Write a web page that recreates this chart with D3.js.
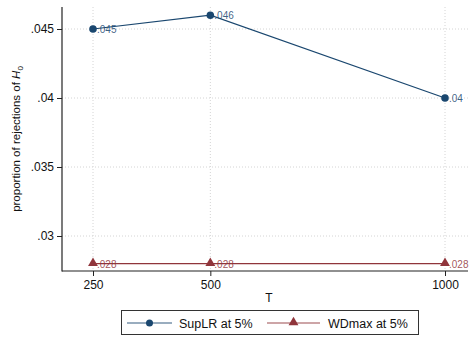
<!DOCTYPE html>
<html><head><meta charset="utf-8">
<script src="https://cdn.jsdelivr.net/npm/d3@7"></script>
<style>body{margin:0;background:#fff;}svg{display:block;font-family:"Liberation Sans",Arial,sans-serif;}</style>
</head><body><svg id="c" width="472" height="339"></svg>
<script>
const categories = [250, 500, 1000];
const supLR = [0.045, 0.046, 0.04];
const wdMax = [0.028, 0.028, 0.028];
const yTicks = [0.03, 0.035, 0.04, 0.045];
const yTickLabels = [".03", ".035", ".04", ".045"];
const seriesNames = ["SupLR at 5%", "WDmax at 5%"];
const colors = ["#1a476f", "#90353b"];

(function () {
const svg = d3.select("#c");
const x = d3.scaleLinear().domain([250, 1000]).range([93, 445]);
const y = d3.scaleLinear().domain([0.03, 0.045]).range([236, 29]);
const pLeft = 62, pRight = 468, pTop = 7, pBottom = 271;

// grid
const g = svg.append("g");
g.selectAll(".hg").data(yTicks).enter().append("line")
  .attr("x1", pLeft).attr("x2", 470).attr("y1", d => y(d)).attr("y2", d => y(d))
  .attr("stroke", "#d4d4d4").attr("stroke-width", 1).attr("stroke-dasharray", "1,2");
g.selectAll(".vg").data(categories).enter().append("line")
  .attr("y1", pTop).attr("y2", pBottom).attr("x1", d => x(d)).attr("x2", d => x(d))
  .attr("stroke", "#d4d4d4").attr("stroke-width", 1).attr("stroke-dasharray", "1,2");

// axes
const yAxis = d3.axisLeft(y).tickValues(yTicks).tickFormat((d, i) => yTickLabels[i]).tickSize(5).tickSizeOuter(0);
const ya = svg.append("g").attr("transform", `translate(${pLeft},0)`).call(yAxis);
ya.select(".domain").remove();
ya.selectAll("text").attr("font-size", 12).attr("fill", "#111").attr("font-family", "Liberation Sans, Arial, sans-serif");
ya.selectAll("line").attr("stroke", "#222");
svg.append("line").attr("x1", pLeft).attr("x2", pLeft).attr("y1", pTop).attr("y2", pBottom + 0.5).attr("stroke", "#222").attr("stroke-width", 1.2);

const xAxis = d3.axisBottom(x).tickValues(categories).tickFormat(d3.format("d")).tickSize(5).tickSizeOuter(0);
const xa = svg.append("g").attr("transform", `translate(0,${pBottom})`).call(xAxis);
xa.select(".domain").remove();
xa.selectAll("text").attr("font-size", 12).attr("fill", "#111").attr("dy", "0.8em").attr("font-family", "Liberation Sans, Arial, sans-serif");
xa.selectAll("line").attr("stroke", "#222");
svg.append("line").attr("x1", pLeft).attr("x2", pRight).attr("y1", pBottom).attr("y2", pBottom).attr("stroke", "#222").attr("stroke-width", 1.2);

// titles
svg.append("text").attr("x", 269).attr("y", 302).attr("text-anchor", "middle").attr("font-size", 12).attr("fill", "#111").text("T");
const yt = svg.append("text").attr("transform", "translate(20,139) rotate(-90)").attr("text-anchor", "middle").attr("font-size", 11.5).attr("fill", "#111");
yt.append("tspan").text("proportion of rejections of ");
yt.append("tspan").attr("font-style", "italic").text("H");
yt.append("tspan").attr("font-size", 8).attr("dy", 3).text("0");

// series
const series = [supLR, wdMax];
const line = d3.line().x((d, i) => x(categories[i])).y(d => y(d));
const tri = d3.symbol().type(d3.symbolTriangle).size(42);
series.forEach((vals, s) => {
  svg.append("path").datum(vals).attr("d", line).attr("fill", "none").attr("stroke", colors[s]).attr("stroke-width", 1.2);
  const pts = svg.selectAll(".p" + s).data(vals).enter();
  if (s === 0) {
    pts.append("circle").attr("cx", (d, i) => x(categories[i])).attr("cy", d => y(d)).attr("r", 3.8).attr("fill", colors[s]);
  } else {
    pts.append("path").attr("d", tri).attr("transform", (d, i) => `translate(${x(categories[i])},${y(d) - 0.5})`).attr("fill", colors[s]);
  }
  svg.selectAll(".l" + s).data(vals).enter().append("text")
    .attr("x", (d, i) => x(categories[i]) + 4).attr("y", d => y(d) + 4)
    .attr("font-size", 10).attr("fill", colors[s]).attr("fill-opacity", 0.85)
    .text(d => d3.format(".3f")(d).replace(/^0/, "").replace(/0+$/, ""));
});

// legend
svg.append("rect").attr("x", 121.5).attr("y", 310.5).attr("width", 297).attr("height", 24).attr("fill", "#fff").attr("stroke", "#333").attr("stroke-width", 1);
const lg = [{x1: 127, x2: 172, tx: 179}, {x1: 267, x2: 320, tx: 328}];
lg.forEach((l, s) => {
  svg.append("line").attr("x1", l.x1).attr("x2", l.x2).attr("y1", 323).attr("y2", 323).attr("stroke", colors[s]).attr("stroke-opacity", 0.6).attr("stroke-width", 1.5);
  const mx = (l.x1 + l.x2) / 2;
  if (s === 0) svg.append("circle").attr("cx", mx).attr("cy", 323).attr("r", 3.5).attr("fill", colors[s]);
  else svg.append("path").attr("d", tri).attr("transform", `translate(${mx},322.5)`).attr("fill", colors[s]);
  svg.append("text").attr("x", l.tx).attr("y", 327.5).attr("font-size", 12.5).attr("fill", "#111").text(seriesNames[s]);
});
})();
</script></body></html>
